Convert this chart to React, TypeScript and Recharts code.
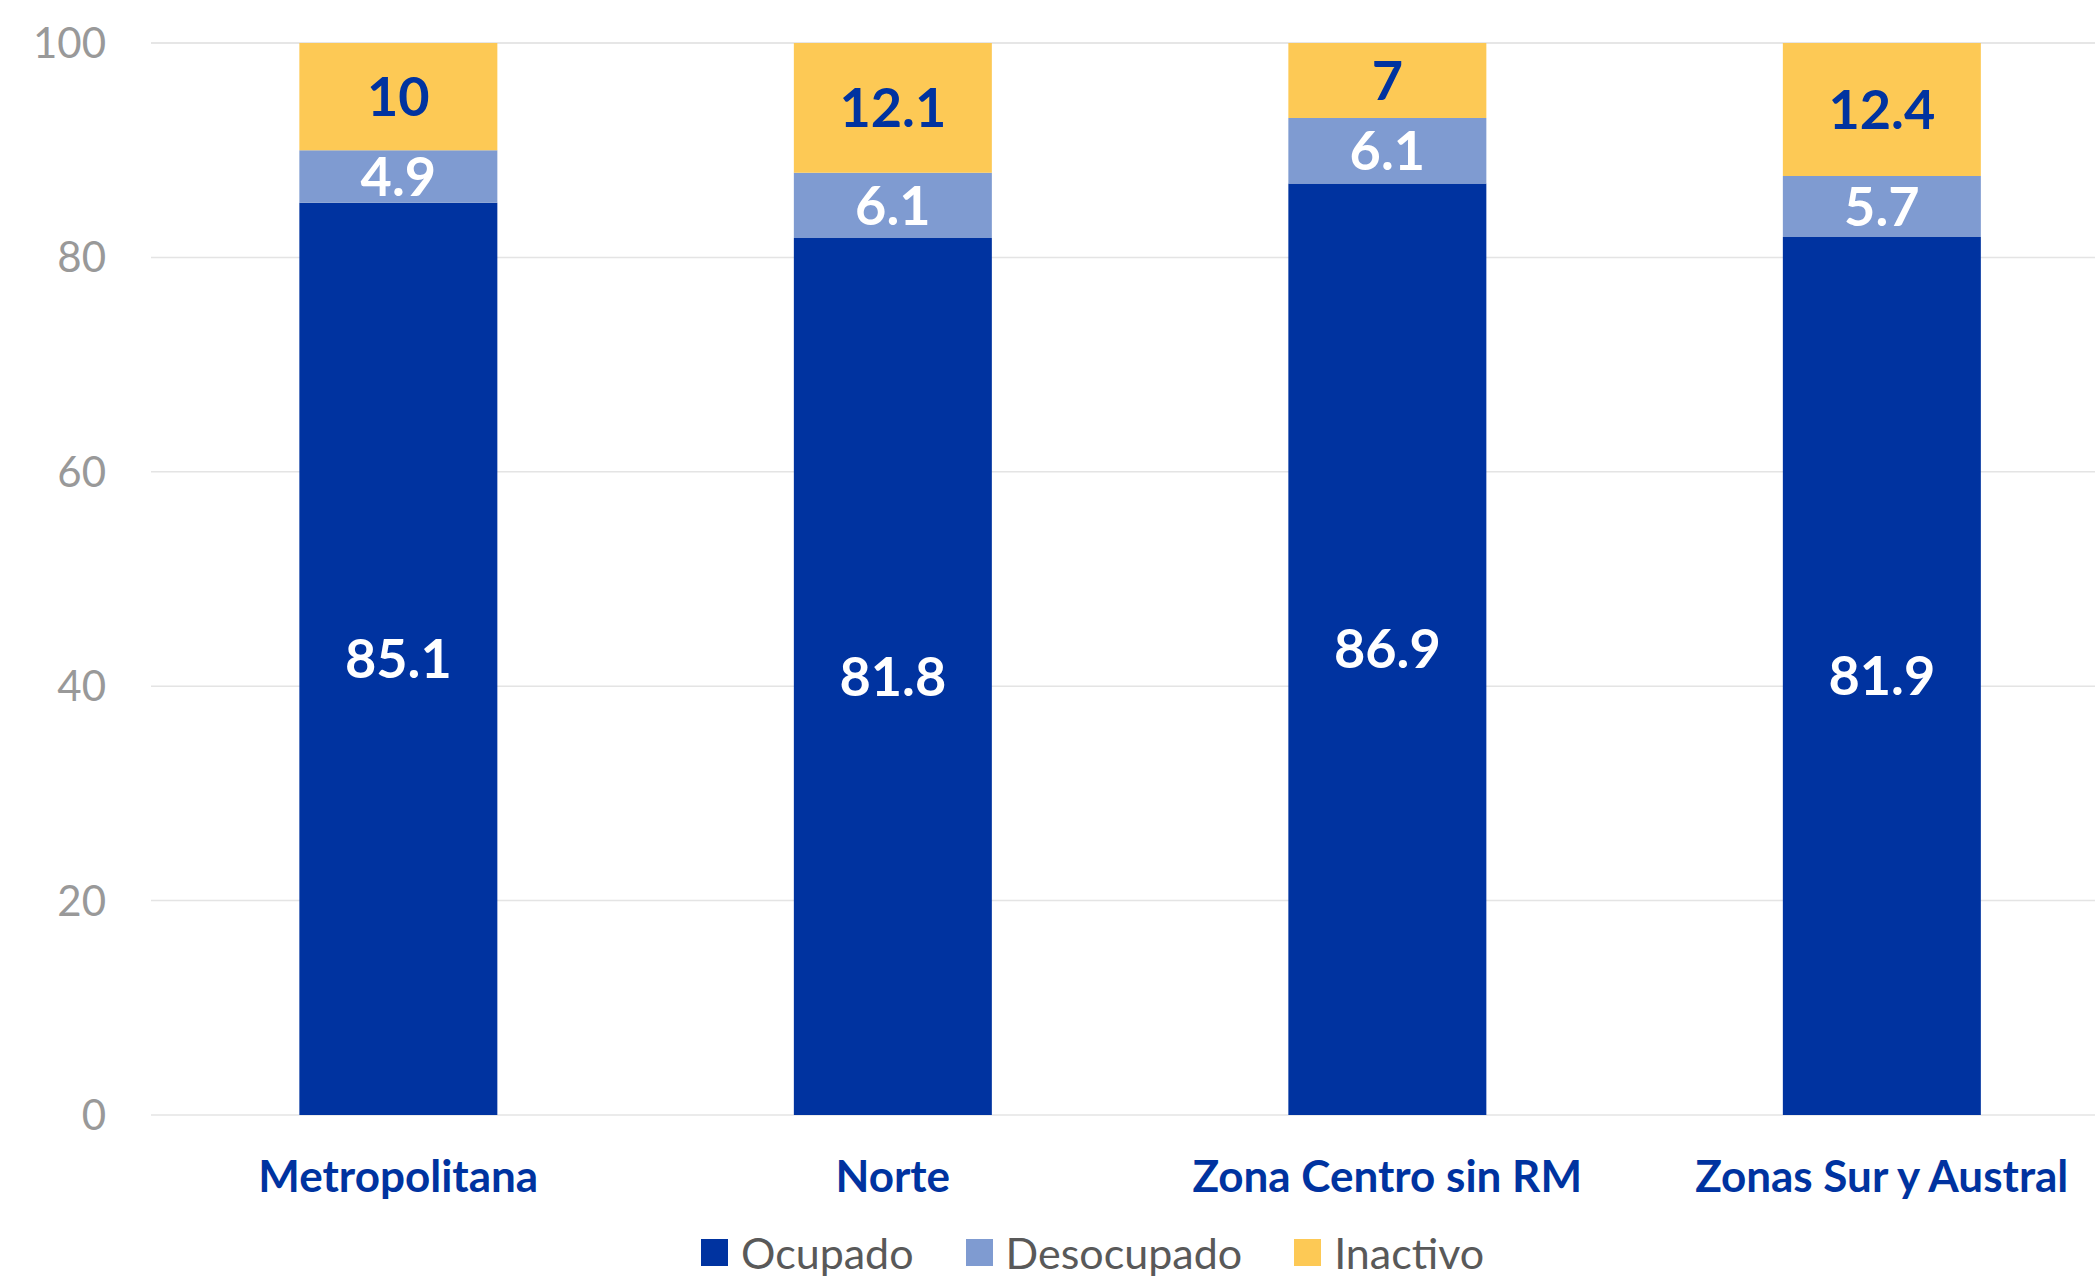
import React from "react";
import {
  BarChart,
  Bar,
  XAxis,
  YAxis,
  CartesianGrid,
  Legend,
  LabelList,
} from "recharts";

const zonas = ["Metropolitana", "Norte", "Zona Centro sin RM", "Zonas Sur y Austral"];
const ocupado = [85.1, 81.8, 86.9, 81.9];
const desocupado = [4.9, 6.1, 6.1, 5.7];
const inactivo = [10, 12.1, 7, 12.4];
const series = ["Ocupado", "Desocupado", "Inactivo"];
const yTicks = [0, 20, 40, 60, 80, 100];

const data = zonas.map((zona, i) => ({
  zona,
  Ocupado: ocupado[i],
  Desocupado: desocupado[i],
  Inactivo: inactivo[i],
}));

const FONT = "Lato, 'Open Sans', sans-serif";
const AZUL = "#0033A0";
const CELESTE = "#7F9BD1";
const AMARILLO = "#FDC955";

// legend drawn by hand so it can sit where Excel put it
const renderLegend = (props: any) => {
  const items = [...(props.payload || [])].sort(
    (a: any, b: any) => series.indexOf(a.value) - series.indexOf(b.value)
  );
  return (
    <div style={{ display: "flex", alignItems: "center", fontFamily: FONT }}>
      {items.map((it: any) => (
        <div
          key={it.value}
          style={{ display: "flex", alignItems: "center", marginRight: 52 }}
        >
          <span
            style={{
              display: "inline-block",
              width: 27,
              height: 27,
              background: it.color,
              marginRight: 13,
            }}
          />
          <span style={{ fontSize: 43, color: "#595959", lineHeight: 1 }}>
            {it.value}
          </span>
        </div>
      ))}
    </div>
  );
};

export default function App() {
  return (
    <div
      style={{
        position: "absolute",
        left: 0,
        top: 0,
        width: 2095,
        height: 1277,
        overflow: "hidden",
        background: "#fff",
      }}
    >
      <BarChart
        width={2140}
        height={1277}
        data={data}
        margin={{ top: 43, right: 11, bottom: 62, left: 0 }}
        barCategoryGap="30%"
      >
        <CartesianGrid vertical={false} stroke="#E4E4E4" strokeWidth={1.5} />
        <XAxis
          dataKey="zona"
          axisLine={false}
          tickLine={false}
          tickSize={0}
          tickMargin={46}
          height={100}
          interval={0}
          tick={{ fill: AZUL, fontSize: 44, fontWeight: 700, fontFamily: FONT }}
        />
        <YAxis
          domain={[0, 100]}
          ticks={yTicks}
          axisLine={false}
          tickLine={false}
          tickSize={0}
          tickMargin={45}
          width={151}
          tick={{ fill: "#999999", fontSize: 42, fontFamily: FONT }}
        />
        <Legend
          verticalAlign="middle"
          align="center"
          content={renderLegend}
          wrapperStyle={{ position: "absolute", top: 1231, left: 701, width: "auto" }}
        />
        <Bar dataKey="Ocupado" stackId="a" fill={AZUL} isAnimationActive={false}>
          <LabelList
            dataKey="Ocupado"
            position="center"
            fill="#fff"
            fontSize={54}
            fontWeight={700}
            fontFamily={FONT}
          />
        </Bar>
        <Bar dataKey="Desocupado" stackId="a" fill={CELESTE} isAnimationActive={false}>
          <LabelList
            dataKey="Desocupado"
            position="center"
            fill="#fff"
            fontSize={54}
            fontWeight={700}
            fontFamily={FONT}
          />
        </Bar>
        <Bar dataKey="Inactivo" stackId="a" fill={AMARILLO} isAnimationActive={false}>
          <LabelList
            dataKey="Inactivo"
            position="center"
            fill={AZUL}
            fontSize={54}
            fontWeight={700}
            fontFamily={FONT}
          />
        </Bar>
      </BarChart>
    </div>
  );
}
